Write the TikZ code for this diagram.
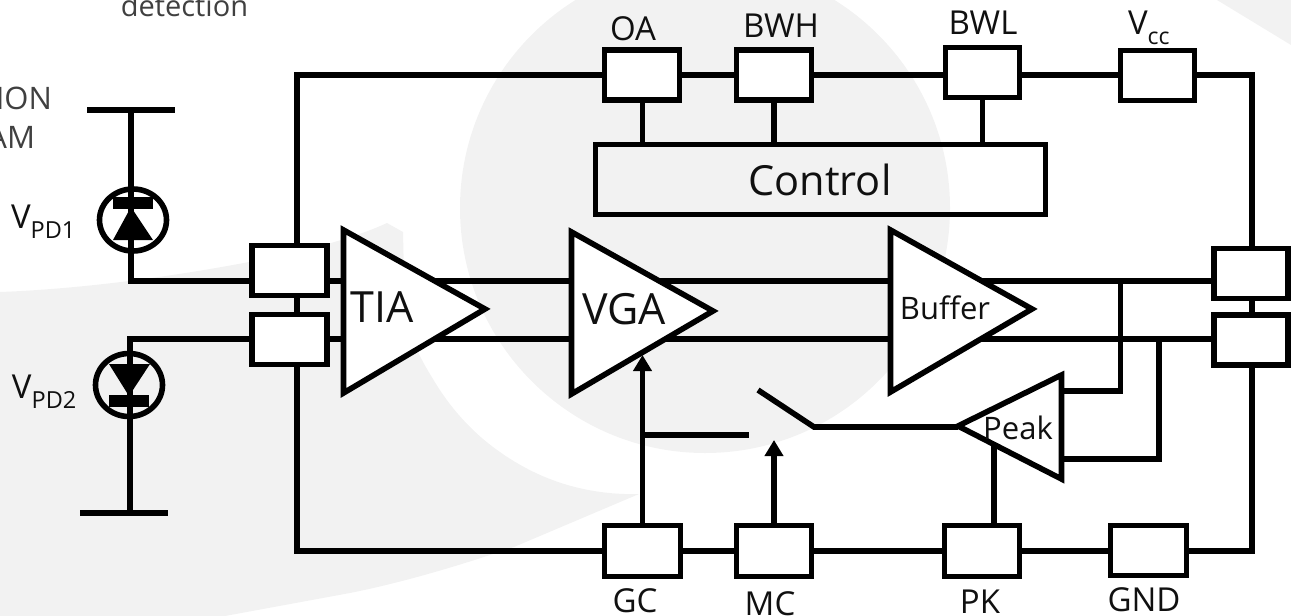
\documentclass[tikz,border=0pt]{standalone}
\usepackage{fontspec}
\setmainfont{Open Sans}
\usetikzlibrary{arrows.meta,calc}
\definecolor{bggrey}{HTML}{F2F2F2}
\definecolor{ink}{HTML}{101010}
\definecolor{faint}{HTML}{404040}
\newcommand{\fs}[1]{\fontsize{#1}{#1}\selectfont}
\newcommand{\lowsub}[3]{{\fs{#1}\raisebox{-#2pt}{#3}}}
\pgfdeclarelayer{paper}
\pgfdeclarelayer{wires}
\pgfsetlayers{paper,wires,main}
\tikzset{
  wire/.style={draw=black,line width=5.6pt,line join=miter,line cap=butt},
  pad/.style={draw=black,fill=white,line width=5.6pt,rectangle,inner sep=0pt,minimum width=75pt,minimum height=50pt,outer sep=0pt},
  amp/.style={draw=black,fill=white,line width=5.6pt,line join=miter},
  lab/.style={inner sep=0pt,outer sep=0pt,text=ink,anchor=base},
  big/.style={lab,font=\fs{43}},
  mid/.style={lab,font=\fs{33}},
  small/.style={lab,font=\fs{31}},
  note/.style={inner sep=0pt,outer sep=0pt,text=faint,font=\fs{29}},
  head/.style={-{Triangle[length=16pt,width=18pt]}}
}
\begin{document}
\begin{tikzpicture}[x=1pt,y=-1pt]
\useasboundingbox (0,0) rectangle (1291,616);
% background
\begin{pgfonlayer}{paper}
\begin{scope}
\clip (0,0) rectangle (1291,616);
\fill[bggrey] (705,208) circle [radius=245pt];
\fill[bggrey] (0,292) .. controls (80,289) and (170,277) .. (249,262)
  .. controls (300,252) and (350,240) .. (387,223) -- (403,232)
  -- (404.6,301.6) .. controls (406,330) and (418,355) .. (432.4,378)
  .. controls (447,403) and (465,424) .. (484.6,440.3)
  .. controls (506,458) and (530,472) .. (555,480.9)
  .. controls (580,490) and (610,495) .. (639,494)
  -- (514,547) .. controls (470,562) and (410,581) .. (350,593)
  -- (225,616) -- (0,616) -- cycle;
\fill[bggrey] (1217,0) -- (1291,45) -- (1291,0) -- cycle;
\end{scope}
\end{pgfonlayer}
% named points
\coordinate (tl) at (297,75);
\coordinate (tr) at (1252,75);
\coordinate (bl) at (297,551);
\coordinate (br) at (1252,551);
\coordinate (wa) at (131,281);
\coordinate (wb) at (127,339);
\coordinate (rail1l) at (87,110);
\coordinate (rail1r) at (175,110);
\coordinate (rail1m) at (131,110);
\coordinate (rail2l) at (80,513);
\coordinate (rail2r) at (168,513);
\coordinate (rail2m) at (130,513);
\coordinate (d2top) at (130,339);
\coordinate (pkup) at (1120.5,281);
\coordinate (pkupb) at (1120.5,391);
\coordinate (pkinu) at (1061.5,391);
\coordinate (pkdn) at (1159,339);
\coordinate (pkdnb) at (1159,459);
\coordinate (pkind) at (1061.5,459);
\coordinate (peakout) at (958,427);
\coordinate (swpivot) at (814,427);
\coordinate (swblade) at (758,390);
\coordinate (swin) at (749,435);
\coordinate (vgabot) at (642.5,355);
\coordinate (swtap) at (642.5,435);
\coordinate (mctip) at (774,440);
\coordinate (pkedge) at (994,440);
% pads
\node[pad] (ul) at (289.5,270.5) {};
\node[pad] (ll) at (289.5,339.5) {};
\node[pad,minimum width=74pt] (ur) at (1251,273.5) {};
\node[pad,minimum width=74pt] (lr) at (1251,340) {};
\node[pad] (oa) at (642,75) {};
\node[pad] (bwh) at (774,75) {};
\node[pad,minimum width=74pt] (bwl) at (982.5,72.5) {};
\node[pad,minimum width=74pt] (vcc) at (1157.5,75.5) {};
\node[pad,minimum width=76pt,minimum height=51pt] (gc) at (642.5,551) {};
\node[pad,minimum height=51pt] (mc) at (774,551) {};
\node[pad,minimum height=51pt] (pk) at (982,551) {};
\node[pad,minimum width=76pt] (gnd) at (1148.5,550.5) {};
\node[pad,fill=none,minimum width=450pt,minimum height=70pt] (ctl) at (820.5,179.5) {};
% wires
\begin{pgfonlayer}{wires}
\draw[wire] (ul.north -| tl) -- (tl) -- (tl -| oa.west);
\draw[wire] (tl -| oa.east) -- (tl -| bwh.west);
\draw[wire] (tl -| bwh.east) -- (tl -| bwl.west);
\draw[wire] (tl -| bwl.east) -- (tl -| vcc.west);
\draw[wire] (tl -| vcc.east) -- (tr) -- (tr |- ur.north);
\draw[wire] (ll.south -| bl) -- (bl) -- (bl -| gc.west);
\draw[wire] (bl -| gc.east) -- (bl -| mc.west);
\draw[wire] (bl -| mc.east) -- (bl -| pk.west);
\draw[wire] (bl -| pk.east) -- (bl -| gnd.west);
\draw[wire] (bl -| gnd.east) -- (br) -- (br |- lr.south);
\draw[wire] (ul.south -| tl) -- (ll.north -| tl);
\draw[wire] (ur.south -| tr) -- (lr.north -| tr);
\draw[wire] (oa.south -| swtap) -- (ctl.north -| swtap);
\draw[wire] (bwh.south) -- (bwh.south |- ctl.north);
\draw[wire] (bwl.south) -- (bwl.south |- ctl.north);
\draw[wire] (wa -| ul.east) -- (wa -| ur.west);
\draw[wire] (wb -| ll.east) -- (wb -| lr.west);
\draw[wire] (rail1l) -- (rail1r);
\draw[wire] (rail2l) -- (rail2r);
\draw[wire] (rail1m) -- (wa) -- (wa -| ul.west);
\draw[wire] (wb) -- (wb -| ll.west);
\draw[wire] (d2top) -- (rail2m);
\draw[wire] (pkup) -- (pkupb) -- (pkinu);
\draw[wire] (pkdn) -- (pkdnb) -- (pkind);
\draw[wire] (peakout) -- (swpivot) -- (swblade);
\draw[wire] (swtap) -- (swin);
\draw[wire,head] (gc.north) -- (vgabot);
\draw[wire,head] (mc.north) -- (mctip);
\draw[wire] (pk.north -| pkedge) -- (pkedge);
\end{pgfonlayer}
% amplifiers
\path[amp] (343.5,230) -- (485,309) -- (343.5,393) -- cycle;
\path[amp] (571.5,232) -- (713,311) -- (571.5,394) -- cycle;
\path[amp] (890.5,230) -- (1032,309) -- (890.5,392) -- cycle;
\path[amp] (1061.5,375) -- (958,426) -- (1061.5,479) -- cycle;
% diodes
\draw[line width=5.6pt] (133,220) ellipse [x radius=33.5pt,y radius=31pt];
\fill[black] (113,197) rectangle (153,209);
\fill[black] (131,207) -- (113,240) -- (153,240) -- cycle;
\draw[line width=5.6pt] (129,385) ellipse [x radius=33.5pt,y radius=31.5pt];
\fill[black] (109,395) rectangle (149,407);
\fill[black] (129,396) -- (109,364) -- (150,364) -- cycle;
% labels
\node[big,font=\fs{41.5}] (tctl) at (820,195) {Control};
\node[big] (ttia) at (382,322) {TIA};
\node[big] (tvga) at (624,324) {VGA};
\node[small] (tbuf) at (945,319) {Buffer};
\node[small] (tpk) at (1018,439) {Peak};
\node[mid] (toa) at (633,40) {OA};
\node[mid] (tbwh) at (781,37) {BWH};
\node[mid] (tbwl) at (983,34) {BWL};
\node[mid,anchor=base west] (tvcc) at (1128,34) {V\lowsub{23}{10}{cc}};
\node[mid] (tgc) at (635,612) {GC};
\node[mid] (tmc) at (770,615) {MC};
\node[mid] (tpkl) at (980,613) {PK};
\node[mid] (tgnd) at (1144,611) {GND};
\node[mid,anchor=base west] (tv1) at (11,228) {V\lowsub{23.5}{10}{PD1}};
\node[mid,anchor=base west] (tv2) at (12,398) {V\lowsub{23.5}{10}{PD2}};
\node[note,anchor=base] (tdet) at (184.5,16) {detection};
\node[note,anchor=base east,font=\fs{31}] (tion) at (52,109) {ION};
\node[note,anchor=base east,font=\fs{31}] (tam) at (35,148) {AM};
\end{tikzpicture}
\end{document}
